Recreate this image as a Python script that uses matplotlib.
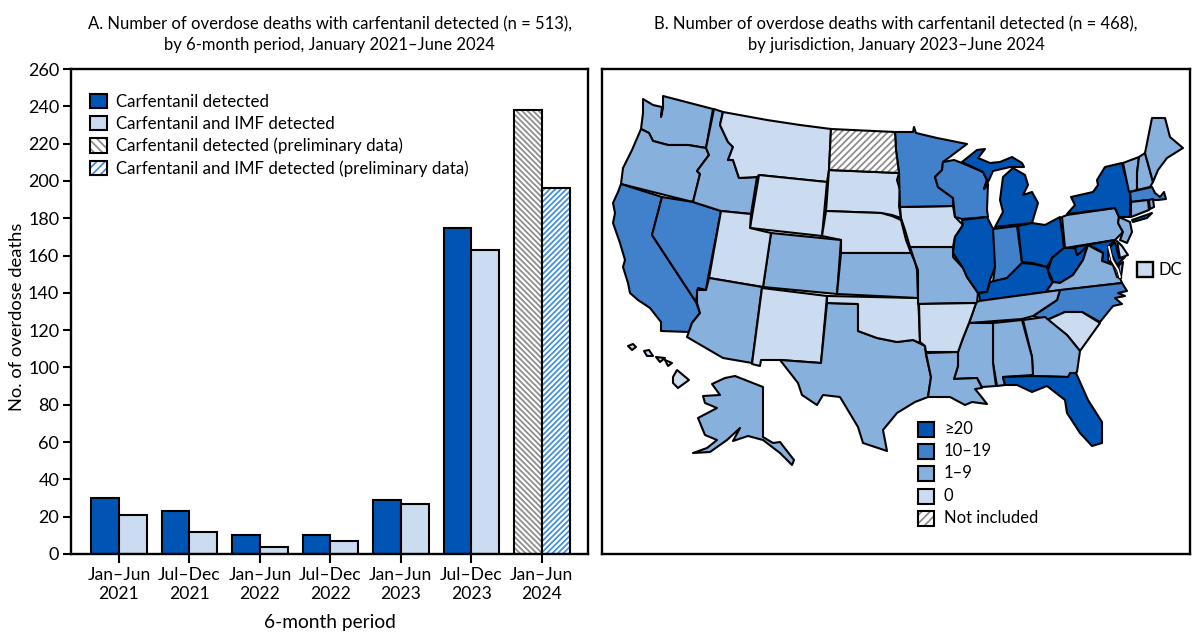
import matplotlib
matplotlib.use('Agg')
import matplotlib.pyplot as plt
from matplotlib.legend_handler import HandlerTuple
from matplotlib.patches import Patch, Polygon, Rectangle

plt.rcParams['font.family'] = ['Lato', 'DejaVu Sans']
plt.rcParams['hatch.linewidth'] = 1.25

# bar chart values
periods = ['Jan–Jun\n2021', 'Jul–Dec\n2021', 'Jan–Jun\n2022', 'Jul–Dec\n2022',
           'Jan–Jun\n2023', 'Jul–Dec\n2023', 'Jan–Jun\n2024']
carfentanil = [30, 23, 10, 10, 29, 175, 238]
carfentanil_imf = [21, 12, 4, 7, 27, 163, 196]
n_final = 6  # last period is preliminary

DARK = '#0054b4'
MID = '#4180cb'
LIGHT = '#88b0dc'
PALE = '#cbdcf1'
GRAY = '#8c8c8c'
HATCH_BLUE = '#3f8ee0'

# map outlines (x, y in picture pixels)
state_shapes = {
    'WA': [(643, 99), (653, 105), (662, 107), (661, 117), (663, 108), (663, 96), (713, 109), (706, 148), (688, 145),
           (668, 145), (653, 141), (649, 133), (641, 129), (643, 113)],
    'OR': [(641, 129), (649, 133), (653, 141), (668, 145), (688, 145), (706, 148), (709, 155), (703, 163), (697, 171),
           (700, 174), (693, 202), (621, 184), (623, 168), (632, 150)],
    'CA': [(621, 184), (662, 197), (652, 235), (696, 302), (700, 313), (692, 323), (689, 332), (661, 331), (661, 322),
           (650, 308), (638, 300), (630, 293), (628, 283), (623, 267), (625, 260), (620, 243), (613, 223), (615, 213),
           (613, 203), (618, 192)],
    'NV': [(662, 197), (693, 202), (721, 211), (708, 278), (706, 290), (698, 288), (696, 302), (652, 235)],
    'ID': [(714, 109), (723, 112), (720, 125), (728, 142), (733, 147), (728, 160), (733, 160), (739, 178), (757, 177),
           (751, 214), (721, 211), (693, 202), (700, 174), (697, 171), (703, 163), (709, 155), (706, 148)],
    'MT': [(723, 112), (767, 120), (800, 125), (831, 129), (829, 170), (827, 182), (759, 175), (757, 177), (739, 178),
           (733, 160), (728, 160), (733, 147), (728, 142), (720, 125)],
    'SD': [(829, 170), (899, 173), (897, 180), (900, 190), (899, 206), (901, 218), (892, 215), (881, 213), (826, 211)],
    'WY': [(759, 175), (827, 182), (822, 236), (750, 228)],
    'NE': [(826, 211), (881, 213), (892, 216), (901, 220), (906, 240), (911, 253), (841, 253), (841, 240), (822, 236)],
    'CO': [(771, 233), (841, 240), (837, 294), (763, 287)],
    'UT': [(721, 211), (751, 214), (750, 228), (771, 233), (763, 287), (709, 278)],
    'AZ': [(709, 278), (762, 287), (752, 363), (723, 358), (687, 337), (692, 323), (700, 313), (697, 303), (697, 290),
           (706, 290)],
    'NM': [(762, 288), (827, 296), (821, 363), (780, 360), (761, 360), (760, 366), (752, 364)],
    'TX': [(827, 303), (858, 304), (858, 331), (877, 338), (897, 342), (913, 340), (925, 346), (926, 355), (931, 377),
           (928, 397), (915, 402), (897, 413), (883, 430), (887, 451), (863, 443), (858, 427), (840, 397), (823, 395),
           (817, 405), (802, 395), (798, 383), (780, 360), (821, 363)],
    'OK': [(827, 296), (918, 298), (919, 316), (920, 343), (913, 340), (897, 342), (877, 338), (858, 331), (858, 304),
           (827, 303)],
    'KS': [(841, 253), (911, 253), (915, 262), (917, 270), (918, 298), (837, 294)],
    'MO': [(910, 247), (953, 247), (953, 257), (963, 268), (967, 277), (978, 293), (977, 303), (972, 303), (918, 304),
           (918, 270), (915, 262)],
    'IA': [(900, 207), (953, 206), (955, 217), (963, 225), (955, 237), (953, 247), (910, 247), (905, 230), (901, 218)],
    'MN': [(895, 132), (913, 132), (914, 127), (916, 133), (937, 138), (967, 144), (943, 162), (942, 170), (935, 177),
           (938, 187), (953, 198), (953, 206), (900, 207), (899, 173), (896, 150)],
    'WI': [(943, 162), (954, 160), (962, 163), (983, 172), (987, 180), (984, 189), (988, 184), (987, 210), (988, 217),
           (962, 219), (955, 217), (953, 198), (938, 187), (935, 177), (942, 170)],
    'MI_lower': [(995, 227), (1003, 212), (1000, 200), (1003, 177), (1013, 168), (1025, 175), (1028, 185), (1023, 195),
                 (1032, 192), (1038, 203), (1032, 223)],
    'MI_upper': [(962, 162), (977, 150), (985, 149), (978, 158), (990, 163), (1000, 162), (1012, 157), (1022, 163),
                 (1024, 167), (1010, 167), (993, 171), (989, 180), (984, 189), (987, 180), (983, 172)],
    'IL': [(962, 220), (987, 217), (992, 227), (995, 230), (995, 267), (990, 280), (987, 292), (978, 293), (967, 277),
           (963, 268), (953, 253), (955, 237), (963, 225)],
    'IN': [(993, 229), (1017, 226), (1022, 263), (1007, 278), (993, 282), (995, 267)],
    'OH': [(1018, 226), (1032, 223), (1045, 225), (1060, 217), (1064, 248), (1052, 258), (1047, 267), (1033, 263),
           (1022, 262)],
    'KY': [(1022, 263), (1033, 264), (1047, 267), (1050, 278), (1053, 282), (1046, 292), (980, 301), (979, 293),
           (987, 292), (990, 282), (1007, 278)],
    'WV': [(1064, 248), (1075, 248), (1077, 255), (1087, 247), (1083, 260), (1073, 275), (1060, 283), (1053, 282),
           (1048, 270), (1052, 258)],
    'PA': [(1062, 217), (1067, 215), (1115, 208), (1119, 217), (1118, 223), (1123, 232), (1115, 240), (1065, 248)],
    'NY': [(1067, 214), (1075, 205), (1071, 197), (1093, 192), (1098, 185), (1097, 180), (1105, 167), (1122, 163),
           (1130, 193), (1130, 217), (1119, 217), (1115, 208)],
    'NY_li': [(1132, 220), (1152, 213), (1147, 218), (1133, 222)],
    'NJ': [(1119, 217), (1130, 222), (1132, 232), (1127, 243), (1120, 240), (1123, 232), (1118, 223)],
    'VT': [(1123, 163), (1139, 157), (1137, 173), (1137, 190), (1129, 192)],
    'NH': [(1139, 157), (1145, 153), (1153, 182), (1150, 187), (1137, 190), (1137, 173)],
    'ME': [(1145, 153), (1152, 118), (1165, 118), (1170, 137), (1183, 148), (1167, 158), (1158, 170), (1153, 182)],
    'MA': [(1130, 192), (1152, 187), (1155, 193), (1160, 197), (1164, 192), (1166, 199), (1158, 200), (1148, 200),
           (1131, 202)],
    'CT': [(1131, 202), (1148, 200), (1149, 210), (1131, 217)],
    'RI': [(1149, 200), (1153, 199), (1154, 207), (1150, 209)],
    'MD_west': [(1075, 247), (1115, 240), (1108, 247), (1108, 260), (1113, 265), (1102, 261), (1103, 253), (1095, 248),
                (1088, 245), (1080, 253), (1077, 255)],
    'MD_east': [(1115, 242), (1119, 258), (1125, 257), (1117, 265), (1112, 255), (1109, 248)],
    'DE': [(1117, 241), (1122, 246), (1128, 255), (1120, 258)],
    'VA': [(1088, 245), (1095, 249), (1103, 253), (1102, 261), (1113, 265), (1117, 277), (1120, 278), (1122, 283),
           (1046, 292), (1053, 282), (1060, 283), (1073, 275), (1083, 260)],
    'VA_shore': [(1119, 265), (1123, 262), (1121, 277), (1118, 272)],
    'NC': [(1122, 283), (1127, 291), (1118, 293), (1125, 296), (1115, 298), (1122, 304), (1113, 306), (1100, 322),
           (1082, 312), (1065, 312), (1047, 320), (1033, 316), (1057, 300), (1060, 290)],
    'TN': [(979, 301), (1060, 290), (1057, 300), (1033, 316), (1022, 319), (969, 323), (973, 312), (976, 303)],
    'SC': [(1047, 320), (1065, 312), (1082, 312), (1100, 323), (1090, 337), (1080, 351), (1067, 335)],
    'GA': [(1023, 320), (1045, 317), (1067, 335), (1080, 351), (1077, 372), (1068, 377), (1033, 376), (1032, 357)],
    'AL': [(993, 323), (1022, 320), (1032, 357), (1033, 375), (1003, 377), (1005, 385), (997, 386), (993, 363)],
    'MS': [(969, 323), (993, 323), (993, 363), (996, 386), (982, 387), (977, 378), (954, 379), (958, 366), (958, 352),
           (963, 338)],
    'LA': [(926, 353), (958, 352), (958, 366), (954, 379), (977, 378), (982, 388), (975, 389), (980, 395), (987, 404),
           (972, 402), (965, 405), (950, 397), (928, 397), (931, 377)],
    'AR': [(919, 304), (976, 303), (973, 312), (969, 323), (963, 338), (958, 352), (926, 352), (925, 346), (920, 342)],
    'FL': [(1003, 377), (1033, 376), (1068, 377), (1070, 373), (1076, 373), (1088, 400), (1102, 422), (1102, 443),
           (1092, 446), (1080, 433), (1067, 413), (1065, 400), (1047, 386), (1032, 392), (1017, 385), (1005, 385)],
    'AK': [(735, 376), (763, 387), (763, 437), (773, 443), (780, 442), (794, 460), (792, 465), (780, 453), (763, 440),
           (748, 436), (733, 441), (740, 428), (727, 440), (710, 452), (693, 453), (707, 448), (717, 440), (705, 435),
           (698, 418), (717, 408), (705, 403), (703, 396), (720, 395), (712, 384), (725, 378)],
    'HI': [(677, 370), (689, 380), (678, 388), (673, 383), (673, 377)],
    'HI_1': [(628, 346), (633, 344), (636, 347), (632, 350)],
    'HI_2': [(644, 351), (649, 350), (653, 356), (647, 356)],
    'HI_3': [(656, 357), (665, 358), (660, 362)],
    'HI_4': [(665, 360), (672, 363), (668, 366)],
}
hatched_shape = [(831, 129), (895, 132), (896, 150), (899, 173), (829, 170)]  # ND
bay_x = [1109, 1112, 1118, 1120]
bay_y = [247, 260, 270, 277]

dark_states = ['MI_lower', 'MI_upper', 'IL', 'OH', 'KY', 'WV', 'NY', 'NY_li', 'MD_west', 'MD_east', 'FL']
mid_states = ['CA', 'NV', 'MN', 'WI', 'IN', 'NC', 'MA']
pale_states = ['MT', 'SD', 'WY', 'NE', 'UT', 'NM', 'OK', 'IA', 'AR', 'SC', 'DE', 'HI', 'HI_1', 'HI_2', 'HI_3', 'HI_4']

map_legend = ['≥20', '10–19', '1–9', '0', 'Not included']
map_legend_colors = [DARK, MID, LIGHT, PALE, None]

fig = plt.figure(figsize=(12, 6.43), dpi=100)
W, H = 1200, 643

# panel A
ax = fig.add_axes([71 / W, 1 - 554 / H, (588 - 71) / W, (554 - 69) / H])
x = list(range(len(periods)))
w = 0.395
ax.bar(x[:n_final], carfentanil[:n_final], width=-w, align='edge', color=DARK, edgecolor='black', linewidth=1.5)
ax.bar(x[:n_final], carfentanil_imf[:n_final], width=w, align='edge', color=PALE, edgecolor='black', linewidth=1.5)
ax.bar(x[n_final:], carfentanil[n_final:], width=-w, align='edge', color='white', edgecolor=GRAY, hatch='\\' * 6, linewidth=0)
ax.bar(x[n_final:], carfentanil[n_final:], width=-w, align='edge', fill=False, edgecolor='black', linewidth=1.5)
ax.bar(x[n_final:], carfentanil_imf[n_final:], width=w, align='edge', color='white', edgecolor=HATCH_BLUE, hatch='/' * 6, linewidth=0)
ax.bar(x[n_final:], carfentanil_imf[n_final:], width=w, align='edge', fill=False, edgecolor='black', linewidth=1.5)
ax.set_xlim(-0.68, 6.655)
ax.set_ylim(0, 260)
ax.set_yticks(range(0, 261, 20))
ax.set_xticks(x)
ax.set_xticklabels(periods, fontsize=12.6, linespacing=1.25)
ax.tick_params(axis='y', labelsize=13, length=5.5, width=1.5, pad=3)
ax.tick_params(axis='x', length=6.5, width=1.5, pad=3)
for s in ax.spines.values():
    s.set_linewidth(1.7)
ax.set_xlabel('6-month period', fontsize=13.8, labelpad=8)
ax.set_ylabel('No. of overdose deaths', fontsize=13.2)
ax.yaxis.set_label_coords((25 - 71) / 517, 0.489)

handles = [
    Patch(facecolor=DARK, edgecolor='black', linewidth=1.5),
    Patch(facecolor=PALE, edgecolor='black', linewidth=1.5),
    (Patch(facecolor='white', edgecolor=GRAY, hatch='\\' * 4, linewidth=0), Patch(fill=False, edgecolor='black', linewidth=1.5)),
    (Patch(facecolor='white', edgecolor=HATCH_BLUE, hatch='/' * 4, linewidth=0), Patch(fill=False, edgecolor='black', linewidth=1.5)),
]
labels = ['Carfentanil detected', 'Carfentanil and IMF detected', 'Carfentanil detected (preliminary data)',
          'Carfentanil and IMF detected (preliminary data)']
ax.legend(handles, labels, loc='upper left', bbox_to_anchor=(0.037, 0.949), frameon=False, fontsize=12.2,
          handlelength=1.0, handleheight=0.95, handletextpad=0.55, labelspacing=0.35, borderpad=0, borderaxespad=0,
          handler_map={tuple: HandlerTuple(ndivide=1, pad=0)})

fig.text(329.5 / W, 1 - 34.5 / H, 'A. Number of overdose deaths with carfentanil detected (n = 513),\nby 6-month period, January 2021–June 2024',
         ha='center', va='center', fontsize=12, linespacing=1.35)
fig.text(896 / W, 1 - 34.5 / H, 'B. Number of overdose deaths with carfentanil detected (n = 468),\nby jurisdiction, January 2023–June 2024',
         ha='center', va='center', fontsize=12, linespacing=1.35)

# panel B
mp = fig.add_axes([602 / W, 1 - 554 / H, (1190 - 602) / W, (554 - 69) / H])
mp.set_xlim(602, 1190)
mp.set_ylim(554, 69)
mp.set_xticks([])
mp.set_yticks([])
for s in mp.spines.values():
    s.set_linewidth(1.7)

for name, pts in state_shapes.items():
    if name in dark_states:
        c = DARK
    elif name in mid_states:
        c = MID
    elif name in pale_states:
        c = PALE
    else:
        c = LIGHT
    mp.add_patch(Polygon(pts, closed=True, facecolor=c, edgecolor='black', linewidth=1.5, joinstyle='round'))

mp.add_patch(Polygon(hatched_shape, closed=True, facecolor='white', edgecolor=GRAY, hatch='/' * 5, linewidth=0))
mp.add_patch(Polygon(hatched_shape, closed=True, fill=False, edgecolor='black', linewidth=1.5))

# Chesapeake Bay
mp.plot(bay_x, bay_y, color='black', linewidth=2.8)
mp.plot(bay_x, bay_y, color='white', linewidth=1.3)

# DC box
mp.add_patch(Rectangle((1137, 262), 16, 15, facecolor=PALE, edgecolor='black', linewidth=1.7))
mp.text(1159, 270, 'DC', fontsize=12, va='center', ha='left')

for i, (lab, c) in enumerate(zip(map_legend, map_legend_colors)):
    y = 422 + i * 22.2
    if c is None:
        mp.add_patch(Rectangle((918, y), 16, 15, facecolor='white', edgecolor=GRAY, hatch='/' * 4, linewidth=0))
        mp.add_patch(Rectangle((918, y), 16, 15, fill=False, edgecolor='black', linewidth=1.5))
    else:
        mp.add_patch(Rectangle((918, y), 16, 15, facecolor=c, edgecolor='black', linewidth=1.5))
    mp.text(944, y + 7, lab, fontsize=12, va='center', ha='left')

fig.savefig('out.png', dpi=100)
